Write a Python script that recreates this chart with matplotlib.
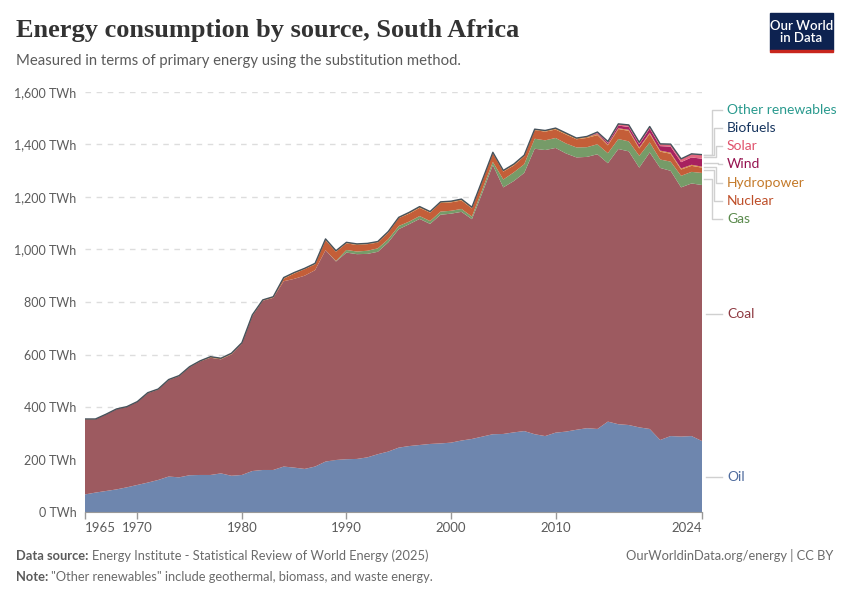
import numpy as np
import matplotlib.pyplot as plt
from matplotlib.patches import Rectangle

# Datos (TWh, energía primaria, método de sustitución)
years = list(range(1965, 2025))

oil = [68, 75, 81, 87, 95, 104, 113, 123, 136, 133,
       141, 142, 142, 148, 139, 142, 157, 161, 161, 174,
       170, 165, 174, 193, 199, 202, 203, 209, 221, 231,
       246, 252, 256, 260, 262, 265, 273, 279, 288, 297,
       298, 304, 309, 297, 290, 303, 307, 314, 320, 317,
       345, 335, 332, 323, 317, 275, 290, 288, 290, 271]

coal = [286, 279, 291, 305, 306, 316, 340, 344, 367, 385,
        411, 432, 446, 434, 462, 500, 590, 644, 655, 705,
        718, 735, 747, 804, 755, 786, 779, 774, 770, 796,
        831, 844, 860, 837, 870, 871, 870, 836, 928, 1024,
        938, 956, 982, 1086, 1088, 1083, 1058, 1036, 1032, 1045,
        983, 1047, 1041, 988, 1052, 1035, 1009, 948, 961, 974]

gas = [0, 0, 0, 0, 0, 0, 0, 0, 0, 0,
       0, 0, 0, 0, 0, 0, 0, 0, 0, 0,
       0, 0, 0, 0, 2, 10, 10, 12, 13, 12,
       12, 10, 11, 11, 12, 11, 11, 10, 12, 12,
       30, 33, 33, 38, 37, 38, 38, 38, 37, 38,
       38, 38, 38, 45, 38, 32, 35, 44, 44, 46]

nuclear = [0, 0, 0, 0, 0, 0, 0, 0, 0, 0,
           0, 0, 0, 0, 0, 0, 0, 0, 0, 10,
           20, 25, 22, 38, 35, 25, 25, 25, 22, 25,
           30, 30, 31, 32, 33, 32, 32, 31, 33, 33,
           30, 26, 30, 33, 33, 32, 34, 31, 35, 35,
           30, 38, 40, 28, 33, 30, 30, 24, 23, 20]

hydro = [1, 1, 1, 1, 1, 1, 2, 2, 2, 2,
         2, 2, 4, 4, 4, 3, 4, 3, 4, 4,
         4, 3, 4, 5, 4, 4, 4, 3, 4, 4,
         3, 5, 5, 4, 4, 4, 5, 4, 3, 3,
         4, 5, 4, 3, 4, 5, 5, 4, 4, 4,
         3, 3, 4, 4, 4, 4, 4, 4, 4, 4]

# 2013-2024
wind = [0] * 48 + [0.2, 3, 6, 10, 11, 12, 16, 17, 23, 24, 28, 30]
solar = [0] * 48 + [1, 4, 5, 6, 7, 7, 7, 8, 9, 12, 13, 15]

biofuels = [0] * 45 + [0.1] * 15
other = [0] * 35 + [0.5] * 25

series = [oil, coal, gas, nuclear, hydro, wind, solar, biofuels, other]
names = ['Oil', 'Coal', 'Gas', 'Nuclear', 'Hydropower', 'Wind', 'Solar',
         'Biofuels', 'Other renewables']
fills = ['#6E86AE', '#9D5A60', '#769B68', '#C45E38', '#D58A40', '#A7215F',
         '#E3687F', '#1E3A66', '#2C9A8C']
label_colors = ['#4F6C9E', '#8E3A42', '#5A8A4C', '#BE4F29', '#C47A2A',
                '#96124F', '#E0526C', '#17355F', '#2A9A8E']

plt.rcParams['font.family'] = ['Lato', 'DejaVu Sans']

fig = plt.figure(figsize=(8.5, 6), dpi=100)
ax = fig.add_axes([85 / 850, 1 - 512.3 / 600, 617 / 850, 420.6 / 600])

ax.stackplot(years, *series, colors=fills, linewidth=0)
total = np.sum(np.array(series, dtype=float), axis=0)
ax.plot(years, total, color='#46525c', lw=1.0)

ax.set_xlim(1965, 2024)
ax.set_ylim(0, 1600)
ax.set_yticks(range(0, 1601, 200))
ax.set_yticklabels([f'{v:,} TWh' for v in range(0, 1601, 200)])
ax.set_xticks([1965, 1970, 1980, 1990, 2000, 2010, 2024])
ax.tick_params(axis='y', length=0, pad=6, labelsize=9, labelcolor='#5b5b5b')
ax.tick_params(axis='x', length=5, width=1, color='#999999', pad=2,
               labelsize=9.5, labelcolor='#5b5b5b')
xl = ax.get_xticklabels()
xl[0].set_ha('left')
xl[-1].set_ha('right')
ax.grid(axis='y', color='#dddddd', linestyle=(0, (4, 4)), lw=1)
ax.set_axisbelow(True)
for s in ['top', 'right', 'left']:
    ax.spines[s].set_visible(False)
ax.spines['bottom'].set_color('#999999')

# Etiquetas a la derecha
def to_fig_y(py):
    return 1 - py / 600

cum = np.cumsum(np.array(series, dtype=float)[:, -1])
label_py = [477, 314, 219, 201, 183, 164, 146, 128, 110]
elbow_px = [None, None, 712, 714, 716, 718, 716, 714, 712]
for i, name in enumerate(names):
    lo = cum[i - 1] if i > 0 else 0
    mid = (lo + cum[i]) / 2
    x0, y0 = fig.transFigure.inverted().transform(ax.transData.transform((2024, mid)))
    ly = to_fig_y(label_py[i])
    if elbow_px[i] is None:
        fig.add_artist(plt.Line2D([706 / 850, 722 / 850], [ly, ly], color='#d0d0d0', lw=1))
    else:
        ex = elbow_px[i] / 850
        fig.add_artist(plt.Line2D([704 / 850, ex, ex, 722 / 850], [y0, y0, ly, ly],
                                  color='#d0d0d0', lw=1))
    fig.text(727 / 850, ly, name, color=label_colors[i], fontsize=10, va='center')

# Título y subtítulo
fig.text(16 / 850, to_fig_y(31), 'Energy consumption by source, South Africa',
         fontsize=19, family=['Liberation Serif'], fontweight='bold',
         color='#333333', va='center')
fig.text(16 / 850, to_fig_y(61), 'Measured in terms of primary energy using the substitution method.',
         fontsize=10.7, color='#5b5b5b', va='center')

# Logo
fig.add_artist(Rectangle((770 / 850, to_fig_y(49.5)), 63 / 850, 37 / 600,
                         transform=fig.transFigure, color='#0d2250'))
fig.add_artist(Rectangle((770 / 850, to_fig_y(52)), 63 / 850, 2.5 / 600,
                         transform=fig.transFigure, color='#c8261d'))
fig.text(801.5 / 850, to_fig_y(31.5), 'Our World\nin Data', color='white', fontsize=9.5,
         ha='center', va='center', linespacing=1.0, fontweight='semibold')

# Pie de página
fig.canvas.draw()
renderer = fig.canvas.get_renderer()
t1 = fig.text(16 / 850, to_fig_y(556), 'Data source:', fontsize=9.3, color='#5b5b5b',
              fontweight='bold', va='center')
w1 = t1.get_window_extent(renderer).width
fig.text((16 + w1 + 3) / 850, to_fig_y(556),
         'Energy Institute - Statistical Review of World Energy (2025)',
         fontsize=9.3, color='#6b6b6b', va='center')
t2 = fig.text(16 / 850, to_fig_y(577), 'Note:', fontsize=9.3, color='#5b5b5b',
              fontweight='bold', va='center')
w2 = t2.get_window_extent(renderer).width
fig.text((16 + w2 + 3) / 850, to_fig_y(577),
         '"Other renewables" include geothermal, biomass, and waste energy.',
         fontsize=9.3, color='#6b6b6b', va='center')
fig.text(833 / 850, to_fig_y(556), 'OurWorldinData.org/energy | CC BY', fontsize=9.3,
         color='#6b6b6b', ha='right', va='center')

fig.savefig('out.png', dpi=100)
